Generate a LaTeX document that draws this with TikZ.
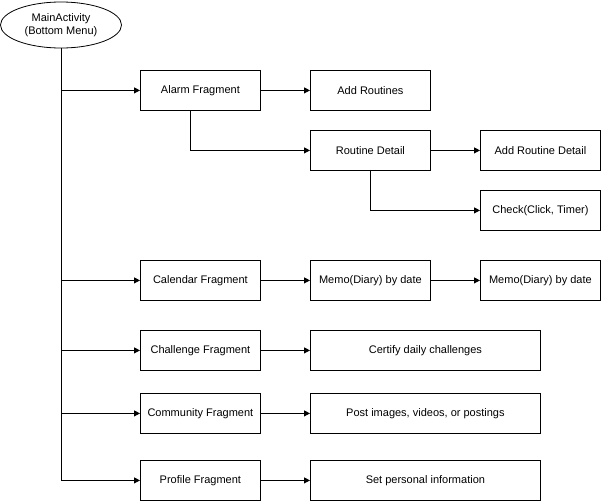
\documentclass[tikz,border=0pt]{standalone}
\usepackage{fontspec}
\setmainfont{Liberation Sans}
\usetikzlibrary{shapes.geometric,arrows.meta}
\begin{document}
\begin{tikzpicture}[x=1pt,y=-1pt,
  box/.style={draw,thick,minimum height=40pt,inner sep=1pt,font=\fontsize{11}{13}\selectfont,anchor=north west},
  arr/.style={draw,thick,-{Triangle[length=6pt,width=6pt]}}]
\useasboundingbox (0,0) rectangle (601,501);
\node[draw,thick,ellipse,minimum width=121pt,minimum height=46pt,inner sep=0pt,align=center,font=\fontsize{11}{13}\selectfont] (main) at (61,25) {MainActivity\\(Bottom Menu)};
\node[box,minimum width=120pt] (alarm) at (140,70) {Alarm Fragment};
\node[box,minimum width=120pt] (addr) at (310,70) {Add Routines};
\node[box,minimum width=120pt] (rd) at (310,130) {Routine Detail};
\node[box,minimum width=120pt] (ard) at (480,130) {Add Routine Detail};
\node[box,minimum width=120pt] (chk) at (480,190) {Check(Click, Timer)};
\node[box,minimum width=120pt] (cal) at (140,260) {Calendar Fragment};
\node[box,minimum width=120pt] (memo1) at (310,260) {Memo(Diary) by date};
\node[box,minimum width=120pt] (memo2) at (480,260) {Memo(Diary) by date};
\node[box,minimum width=120pt] (chal) at (140,330) {Challenge Fragment};
\node[box,minimum width=230pt] (cert) at (310,330) {Certify daily challenges};
\node[box,minimum width=120pt] (comm) at (140,393) {Community Fragment};
\node[box,minimum width=230pt] (post) at (310,393) {Post images, videos, or postings};
\node[box,minimum width=120pt] (prof) at (140,460) {Profile Fragment};
\node[box,minimum width=230pt] (set) at (310,460) {Set personal information};
\coordinate (tend) at (61,480);
\draw[thick] (main.south) -- (tend);
\foreach \n in {alarm,cal,chal,comm,prof} \draw[arr] (main.south |- \n.west) -- (\n.west);
\draw[arr] (alarm) -- (addr);
\draw[arr] (rd) -- (ard);
\draw[arr] (cal) -- (memo1);
\draw[arr] (memo1) -- (memo2);
\draw[arr] (chal) -- (cert);
\draw[arr] (comm) -- (post);
\draw[arr] (prof) -- (set);
\draw[arr] (190,110) |- (rd.west);
\draw[arr] (370,170) |- (chk.west);
\end{tikzpicture}
\end{document}
